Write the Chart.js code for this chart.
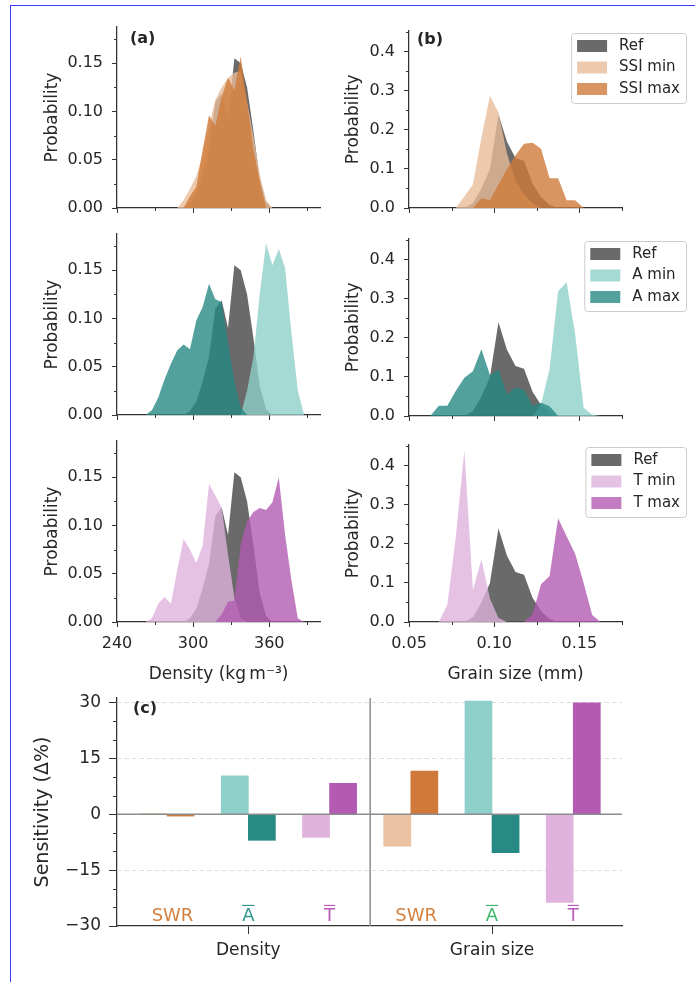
<!DOCTYPE html>
<html>
<head>
<meta charset="utf-8">
<script src="https://cdn.jsdelivr.net/npm/chart.js@4.4.0/dist/chart.umd.min.js"></script>
<style>
  body { margin: 0; background: #fff; width: 695px; height: 982px; overflow: hidden; position: relative; }
  canvas { position: absolute; left: 0; top: 0; }
  #frame { position: absolute; left: 10px; top: 5px; width: 720px; height: 1000px;
           border-left: 1px solid #3a3aff; border-top: 1px solid #3a3aff; }
</style>
</head>
<body>
<div id="frame"></div>
<canvas id="a1" width="695" height="982"></canvas>
<canvas id="b1" width="695" height="982"></canvas>
<canvas id="a2" width="695" height="982"></canvas>
<canvas id="b2" width="695" height="982"></canvas>
<canvas id="a3" width="695" height="982"></canvas>
<canvas id="b3" width="695" height="982"></canvas>
<canvas id="c" width="695" height="982"></canvas>
<script>
// ---- histogram bins (bin centres) ----
const densityBins = [262.5, 267.5, 272.5, 277.5, 282.5, 287.5, 292.5, 297.5, 302.5, 307.5, 312.5, 317.5, 322.5,
  327.5, 332.5, 337.5, 342.5, 347.5, 352.5, 357.5, 362.5, 367.5, 372.5, 377.5, 382.5, 387.5];
const grainBins = [0.0625, 0.0675, 0.0725, 0.0775, 0.0825, 0.0875, 0.0925, 0.0975, 0.1025, 0.1075, 0.1125,
  0.1175, 0.1225, 0.1275, 0.1325, 0.1375, 0.1425, 0.1475, 0.1525, 0.1575, 0.1625];

// ---- probabilities, density (kg m-3) ----
const refDensity    = [0, 0, 0, 0, 0, 0, 0, 0.004, 0.014, 0.035, 0.06, 0.11, 0.119, 0.09, 0.155, 0.15, 0.125, 0.08, 0.03, 0.006, 0, 0, 0, 0, 0, 0];
const ssiMinDensity = [0, 0, 0, 0, 0, 0, 0.008, 0.02, 0.033, 0.055, 0.085, 0.112, 0.125, 0.135, 0.14, 0.142, 0.11, 0.075, 0.035, 0.008, 0, 0, 0, 0, 0, 0];
const ssiMaxDensity = [0, 0, 0, 0, 0, 0, 0, 0.012, 0.022, 0.06, 0.096, 0.085, 0.115, 0.135, 0.122, 0.157, 0.11, 0.06, 0.028, 0, 0, 0, 0, 0, 0, 0];
const aMinDensity   = [0, 0, 0, 0, 0, 0, 0, 0, 0, 0, 0, 0, 0, 0, 0, 0, 0.025, 0.06, 0.125, 0.178, 0.155, 0.172, 0.152, 0.085, 0.025, 0];
const aMaxDensity   = [0, 0.005, 0.018, 0.037, 0.053, 0.067, 0.073, 0.068, 0.098, 0.112, 0.136, 0.12, 0.117, 0.075, 0.035, 0.008, 0, 0, 0, 0, 0, 0, 0, 0, 0, 0];
const tMinDensity   = [0, 0.004, 0.019, 0.026, 0.019, 0.054, 0.086, 0.075, 0.061, 0.079, 0.143, 0.131, 0.118, 0.07, 0.025, 0.004, 0, 0, 0, 0, 0, 0, 0, 0, 0, 0];
const tMaxDensity   = [0, 0, 0, 0, 0, 0, 0, 0, 0, 0, 0, 0, 0.008, 0.021, 0.022, 0.08, 0.104, 0.114, 0.118, 0.116, 0.124, 0.15, 0.09, 0.043, 0.004, 0];

// ---- probabilities, grain size (mm) ----
const refGrain    = [0, 0, 0, 0, 0, 0.012, 0.05, 0.1, 0.24, 0.17, 0.128, 0.121, 0.062, 0.028, 0.008, 0, 0, 0, 0, 0, 0];
const ssiMinGrain = [0, 0, 0, 0, 0.03, 0.06, 0.18, 0.288, 0.245, 0.14, 0.07, 0.035, 0.012, 0, 0, 0, 0, 0, 0, 0, 0];
const ssiMaxGrain = [0, 0, 0, 0, 0, 0, 0.025, 0.02, 0.06, 0.1, 0.135, 0.165, 0.167, 0.152, 0.076, 0.076, 0.02, 0.02, 0, 0, 0];
const aMinGrain   = [0, 0, 0, 0, 0, 0, 0, 0, 0, 0, 0, 0, 0, 0.03, 0.12, 0.32, 0.343, 0.21, 0.021, 0.003, 0];
const aMaxGrain   = [0, 0.026, 0.026, 0.065, 0.098, 0.115, 0.171, 0.105, 0.119, 0.055, 0.073, 0.068, 0.026, 0.034, 0.025, 0, 0, 0, 0, 0, 0];
const tMinGrain   = [0, 0, 0.044, 0.22, 0.441, 0.082, 0.161, 0.06, 0.01, 0, 0, 0, 0, 0, 0, 0, 0, 0, 0, 0, 0];
const tMaxGrain   = [0, 0, 0, 0, 0, 0, 0, 0, 0, 0, 0, 0, 0.02, 0.097, 0.118, 0.266, 0.22, 0.175, 0.1, 0.018, 0];

// ---- axis ticks ----
const densityTicks = [240, 300, 360];
const densityMinor = [270, 330, 390];
const grainTicks = [0.05, 0.10, 0.15];
const grainMinor = [0.075, 0.125, 0.175];
const probTicksA = [0, 0.05, 0.10, 0.15];
const probMinorA = [0.025, 0.075, 0.125, 0.175];
const probTicksB = [0, 0.1, 0.2, 0.3, 0.4];
const probMinorB = [0.05, 0.15, 0.25, 0.35, 0.45];

// ---- panel (c): sensitivity (delta %) ----
const groups = ['Density', 'Grain size'];
const params = ['SWR', 'A', 'T'];
const swrMin = [0.15, -8.6];
const swrMax = [-0.5, 11.6];
const aMin = [10.3, 30.4];
const aMax = [-7.0, -10.3];
const tMin = [-6.2, -23.7];
const tMax = [8.3, 29.9];
const sensTicks = [-30, -15, 0, 15, 30];
const sensMinor = [-25, -20, -10, -5, 5, 10, 20, 25];
const sensGrid = [-15, 15, 30];

const FIG_W = 695, FIG_H = 982;
const AXIS = '#333333';
const TEXT = '#262626';
const FONT = 'DejaVu Sans';
Chart.defaults.font.family = FONT;
Chart.defaults.color = TEXT;

const COL = {
  ref: 'rgba(80,80,80,0.85)',
  ssiMin: 'rgba(232,188,152,0.8)', ssiMax: 'rgba(207,122,58,0.8)',
  aMin: 'rgba(142,207,201,0.8)', aMax: 'rgba(40,138,132,0.8)',
  tMin: 'rgba(223,179,221,0.8)', tMax: 'rgba(179,91,178,0.8)'
};

function drawLegend(ctx, a, items) {
  ctx.font = '15px ' + FONT;
  const tw = Math.max(...items.map(it => ctx.measureText(it.label).width));
  const w = 6 + 30 + 12 + tw + 6, h = 70;
  const right = a.right + 64, top = a.top + 2.5;
  const left = right - w;
  ctx.beginPath();
  ctx.roundRect(left + 0.5, top + 0.5, w, h, 3);
  ctx.fillStyle = 'rgba(255,255,255,0.8)';
  ctx.fill();
  ctx.strokeStyle = '#cccccc';
  ctx.lineWidth = 1;
  ctx.stroke();
  items.forEach((it, i) => {
    const cy = top + 13 + i * 21.5;
    ctx.fillStyle = it.color;
    ctx.fillRect(left + 6, cy - 6, 30, 12);
    ctx.fillStyle = TEXT;
    ctx.textBaseline = 'middle';
    ctx.textAlign = 'left';
    ctx.fillText(it.label, left + 48, cy);
  });
}

// minor ticks, panel tag, legend and extra lines
function decor(cfg) {
  return {
    id: 'decor',
    beforeDatasetsDraw(chart) { if (cfg.before) cfg.before(chart); },
    afterDatasetsDraw(chart) { if (cfg.after) cfg.after(chart); },
    afterDraw(chart) {
      const { ctx, chartArea: a, scales: { x, y } } = chart;
      ctx.save();
      ctx.strokeStyle = AXIS;
      ctx.lineWidth = 1;
      ctx.beginPath();
      (cfg.minorX || []).forEach(v => {
        const p = Math.round(x.getPixelForValue(v)) + 0.5;
        ctx.moveTo(p, a.bottom); ctx.lineTo(p, a.bottom + cfg.minorLen);
      });
      (cfg.minorY || []).forEach(v => {
        const p = Math.round(y.getPixelForValue(v)) + 0.5;
        ctx.moveTo(a.left, p); ctx.lineTo(a.left - cfg.minorLen, p);
      });
      ctx.stroke();
      if (cfg.tag) {
        ctx.font = 'bold 16px ' + FONT;
        ctx.fillStyle = TEXT;
        ctx.textBaseline = 'middle';
        ctx.textAlign = 'left';
        ctx.fillText(cfg.tag.text, a.left + cfg.tag.dx, a.top + cfg.tag.dy);
      }
      if (cfg.legend) drawLegend(ctx, a, cfg.legend);
      ctx.restore();
    }
  };
}

function areaSet(label, bins, vals, color, order) {
  return {
    label, order,
    data: bins.map((b, i) => ({ x: b, y: vals[i] })),
    backgroundColor: color, borderWidth: 0, fill: 'origin',
    pointRadius: 0, tension: 0
  };
}

function axisOpts(o) {
  return {
    type: 'linear', min: o.min, max: o.max, offset: false,
    afterBuildTicks: s => { s.ticks = o.ticks.map(v => ({ value: v })); },
    afterFit: s => { if (o.horizontal) s.height = o.size; else s.width = o.size; },
    ticks: { display: o.labels !== false, padding: o.pad, autoSkip: false, maxRotation: 0,
             font: { size: o.fontSize || 16 }, callback: o.fmt },
    grid: { display: true, drawOnChartArea: false, drawTicks: true, tickLength: o.tickLen || 5,
            color: AXIS, lineWidth: 1, offset: false },
    border: { display: true, color: AXIS, width: 1.25 },
    title: o.title ? { display: true, text: o.title, font: { size: o.titleSize || 17 }, color: TEXT,
                       padding: { top: 4, bottom: 4 } } : { display: false }
  };
}

function histPanel(id, box, kind, row, series, tag, legend) {
  const isA = kind === 'density';
  const bins = isA ? densityBins : grainBins;
  const yW = isA ? 79 : 70;
  const xH = row === 2 ? 67 : 20;
  const datasets = [
    areaSet(series[2][0], bins, series[2][1], series[2][2], 1),
    areaSet(series[1][0], bins, series[1][1], series[1][2], 2),
    areaSet(series[0][0], bins, series[0][1], series[0][2], 3)
  ];
  new Chart(document.getElementById(id), {
    type: 'line',
    data: { datasets },
    options: {
      responsive: false, animation: false, events: [],
      layout: { padding: { left: box.l - yW, right: FIG_W - box.r, top: box.t, bottom: FIG_H - box.b - xH } },
      plugins: { legend: { display: false }, tooltip: { enabled: false } },
      scales: {
        x: axisOpts({
          horizontal: true, size: xH, pad: 7,
          min: isA ? 240 : 0.05, max: isA ? 400 : 0.175,
          ticks: isA ? densityTicks : grainTicks,
          fmt: v => isA ? String(v) : v.toFixed(2),
          labels: row === 2,
          title: row === 2 ? (isA ? 'Density (kg\u2009m\u207B\u00B3)' : 'Grain size (mm)') : null
        }),
        y: axisOpts({
          size: yW, pad: 9,
          min: 0, max: isA ? 0.1875 : 0.455,
          ticks: isA ? probTicksA : probTicksB,
          fmt: v => isA ? v.toFixed(2) : v.toFixed(1),
          title: 'Probability'
        })
      }
    },
    plugins: [decor({
      minorLen: 3,
      minorX: isA ? densityMinor : grainMinor,
      minorY: isA ? probMinorA : probMinorB,
      tag, legend
    })]
  });
}

const boxA = [{ l: 117, r: 320, t: 27, b: 208 }, { l: 117, r: 320, t: 234, b: 415 }, { l: 117, r: 320, t: 441, b: 622 }];
const boxB = [{ l: 409, r: 622, t: 30.5, b: 208 }, { l: 409, r: 622, t: 238.5, b: 416 }, { l: 409, r: 622, t: 444.5, b: 622 }];

const rowsDef = [
  { name: 'SSI', dens: [ssiMinDensity, ssiMaxDensity], grain: [ssiMinGrain, ssiMaxGrain], col: [COL.ssiMin, COL.ssiMax] },
  { name: 'A', dens: [aMinDensity, aMaxDensity], grain: [aMinGrain, aMaxGrain], col: [COL.aMin, COL.aMax] },
  { name: 'T', dens: [tMinDensity, tMaxDensity], grain: [tMinGrain, tMaxGrain], col: [COL.tMin, COL.tMax] }
];

rowsDef.forEach((r, i) => {
  const densSeries = [['Ref', refDensity, COL.ref], [r.name + ' min', r.dens[0], r.col[0]], [r.name + ' max', r.dens[1], r.col[1]]];
  const grainSeries = [['Ref', refGrain, COL.ref], [r.name + ' min', r.grain[0], r.col[0]], [r.name + ' max', r.grain[1], r.col[1]]];
  const legend = grainSeries.map(s => ({ label: s[0], color: s[2] }));
  histPanel('a' + (i + 1), boxA[i], 'density', i, densSeries, i === 0 ? { text: '(a)', dx: 13, dy: 12 } : null, null);
  histPanel('b' + (i + 1), boxB[i], 'grain', i, grainSeries, i === 0 ? { text: '(b)', dx: 8, dy: 9.5 } : null, legend);
});

// ---- panel (c) ----
const barSeries = [swrMin, swrMax, aMin, aMax, tMin, tMax];
const barColors = ['#ebc2a2', '#cf7a3a', '#8ecfc9', '#288a84', '#dfb3dd', '#b35bb2'];
const labelColors = [['#d4813f', '#d4813f'], ['#2e978f', '#3fb86e'], ['#b85cb8', '#b85cb8']];
const labelShift = [0.7, 0.5, 0.5];
const LABEL_LEVEL = -27.3;
const GROUP_SLOTS = 9, PARAM_SLOTS = 3;

const boxC = { l: 117, r: 622, t: 698, b: 926 };
const cYW = 89, cXH = 45;

new Chart(document.getElementById('c'), {
  type: 'bar',
  data: {
    datasets: barSeries.map((vals, j) => ({
      label: params[Math.floor(j / 2)] + (j % 2 ? ' max' : ' min'),
      data: groups.map((g, gi) => ({ x: gi * GROUP_SLOTS + Math.floor(j / 2) * PARAM_SLOTS + (j % 2), y: vals[gi] })),
      backgroundColor: barColors[j], borderWidth: 0,
      grouped: false, barPercentage: 1, categoryPercentage: 1
    }))
  },
  options: {
    responsive: false, animation: false, events: [],
    layout: { padding: { left: boxC.l - cYW, right: FIG_W - boxC.r, top: boxC.t, bottom: FIG_H - boxC.b - cXH } },
    plugins: { legend: { display: false }, tooltip: { enabled: false } },
    scales: {
      x: axisOpts({
        horizontal: true, size: cXH, pad: 6, tickLen: 8, fontSize: 17,
        min: -1.35, max: 17.3,
        ticks: groups.map((g, gi) => gi * GROUP_SLOTS + 3.5),
        fmt: (v, i) => groups[i]
      }),
      y: axisOpts({
        size: cYW, pad: 8, tickLen: 8, fontSize: 17,
        min: -30, max: 31.2,
        ticks: sensTicks,
        fmt: v => v < 0 ? '\u2212' + Math.abs(v) : String(v),
        title: 'Sensitivity (\u0394%)', titleSize: 19
      })
    }
  },
  plugins: [decor({
    minorLen: 4,
    minorY: sensMinor,
    tag: { text: '(c)', dx: 16, dy: 11 },
    before(chart) {
      const { ctx, chartArea: a, scales: { y } } = chart;
      ctx.save();
      ctx.strokeStyle = '#dddddd';
      ctx.lineWidth = 1;
      ctx.setLineDash([4.5, 3]);
      sensGrid.forEach(v => {
        const p = Math.round(y.getPixelForValue(v)) + 0.5;
        ctx.beginPath(); ctx.moveTo(a.left, p); ctx.lineTo(a.right, p); ctx.stroke();
      });
      ctx.restore();
    },
    after(chart) {
      const { ctx, chartArea: a, scales: { x, y } } = chart;
      ctx.save();
      ctx.strokeStyle = '#8c8c8c';
      ctx.lineWidth = 1.5;
      const y0 = y.getPixelForValue(0);
      ctx.beginPath(); ctx.moveTo(a.left, y0); ctx.lineTo(a.right, y0); ctx.stroke();
      const xd = x.getPixelForValue(GROUP_SLOTS - 1);
      ctx.beginPath(); ctx.moveTo(xd, a.top); ctx.lineTo(xd, a.bottom); ctx.stroke();
      // parameter names under each pair of bars
      ctx.font = '18px ' + FONT;
      ctx.textAlign = 'center';
      ctx.textBaseline = 'middle';
      groups.forEach((g, gi) => {
        params.forEach((p, pi) => {
          const cx = x.getPixelForValue(gi * GROUP_SLOTS + pi * PARAM_SLOTS + labelShift[pi]);
          const cy = y.getPixelForValue(LABEL_LEVEL);
          const c = labelColors[pi][gi];
          ctx.fillStyle = c;
          ctx.fillText(p, cx, cy);
          if (p !== 'SWR') {
            const w = ctx.measureText(p).width;
            ctx.strokeStyle = c;
            ctx.lineWidth = 1.2;
            ctx.beginPath();
            ctx.moveTo(cx - w / 2, cy - 10.5); ctx.lineTo(cx + w / 2, cy - 10.5);
            ctx.stroke();
          }
        });
      });
      ctx.restore();
    }
  })]
});
</script>
</body>
</html>
